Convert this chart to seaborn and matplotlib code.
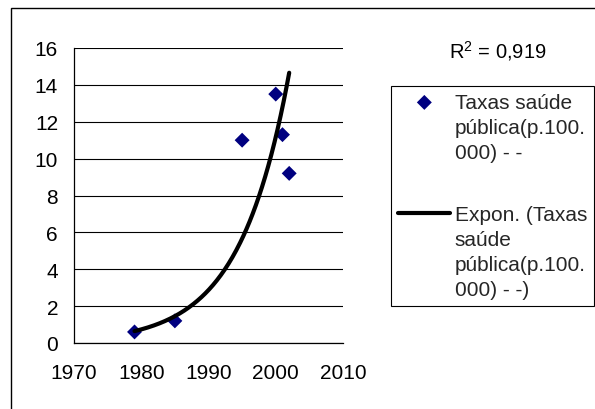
import numpy as np
import pandas as pd
import matplotlib.pyplot as plt
import seaborn as sns
from matplotlib.patches import Rectangle

# data
years = [1979, 1985, 1995, 2000, 2001, 2002]
taxas = [0.6, 1.2, 11.0, 13.5, 11.3, 9.2]
x_ticks = [1970, 1980, 1990, 2000, 2010]
y_ticks = [0, 2, 4, 6, 8, 10, 12, 14, 16]
serie_label = "Taxas saúde\npública(p.100.\n000) - -"
trend_label = "Expon. (Taxas\nsaúde\npública(p.100.\n000) - -)"
r2_text = r"R$^{\mathrm{2}}$ = 0,919"

W, H = 595, 410

df = pd.DataFrame({"ano": years, "taxa": taxas})

# exponential trendline, fitted like Excel does (least squares on log values)
b, a = np.polyfit(df["ano"], np.log(df["taxa"]), 1)
xs = np.linspace(df["ano"].min(), df["ano"].max(), 200)
trend = pd.DataFrame({"ano": xs, "taxa": np.exp(a + b * xs)})

sns.set_theme(style="white")
plt.rcParams["font.family"] = ["Liberation Sans", "DejaVu Sans"]
plt.rcParams["mathtext.fontset"] = "custom"
plt.rcParams["mathtext.rm"] = "Liberation Sans"

fig = plt.figure(figsize=(W / 100, H / 100), dpi=100)

# outer chart border (clipped at right and bottom like the original)
fig.patches.append(Rectangle((11 / W, -0.5), 1.0, (1 - 9 / H) + 0.5,
                             transform=fig.transFigure, fill=False,
                             edgecolor="black", linewidth=1.0))

ax = fig.add_axes([74 / W, 66 / H, 269 / W, 295 / H])

sns.scatterplot(data=df, x="ano", y="taxa", marker="D", s=58, color="#000080",
                edgecolor="none", ax=ax, label=serie_label, zorder=2)
sns.lineplot(data=trend, x="ano", y="taxa", color="black", linewidth=3.0,
             ax=ax, label=trend_label, zorder=3)

ax.set_xlim(1970, 2010)
ax.set_ylim(0, 16)
ax.set_xticks(x_ticks)
ax.set_yticks(y_ticks)
ax.set_xlabel("")
ax.set_ylabel("")
ax.yaxis.grid(True, color="black", linewidth=0.8)
ax.xaxis.grid(False)
ax.set_axisbelow(True)
for side in ["top", "right"]:
    ax.spines[side].set_visible(False)
for side in ["left", "bottom"]:
    ax.spines[side].set_color("black")
    ax.spines[side].set_linewidth(0.9)
ax.tick_params(axis="both", direction="out", length=5.5, width=0.8,
               colors="black", labelsize=15)
ax.tick_params(axis="x", pad=9)
ax.tick_params(axis="y", pad=6)

handles, labels = ax.get_legend_handles_labels()
leg = ax.legend(handles, labels, loc="upper left",
                bbox_to_anchor=(391 / W, 1 - 87 / H), bbox_transform=fig.transFigure,
                frameon=True, fancybox=False, edgecolor="black", framealpha=1,
                fontsize=15, handlelength=2.5, handletextpad=0.2,
                labelspacing=2.1, borderpad=0.35, borderaxespad=0)
leg.get_frame().set_linewidth(0.8)
for t in leg.get_texts():
    t.set_linespacing(1.38)
# keys sit next to the first line of each label, as in Excel
for col in leg._legend_handle_box.get_children():
    for row in col.get_children():
        row.align = "top"

fig.text(449 / W, 1 - 58 / H, r2_text, fontsize=14.5, va="baseline", color="black")

fig.savefig("out.png", dpi=100)
